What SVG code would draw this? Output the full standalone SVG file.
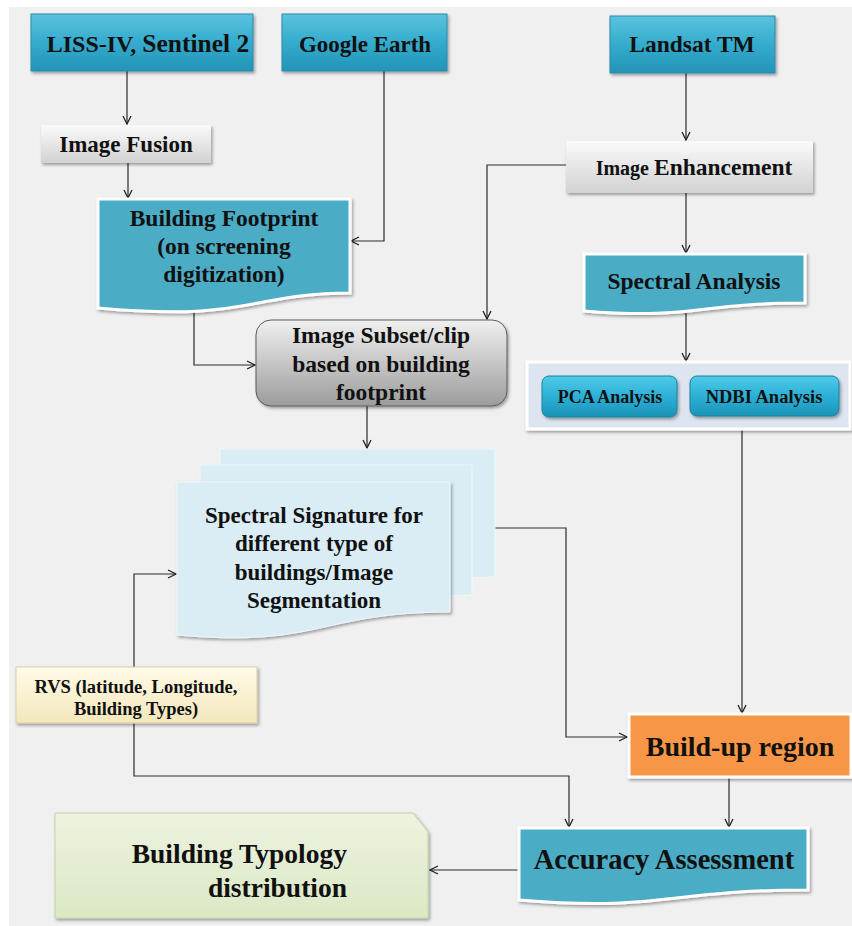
<svg xmlns="http://www.w3.org/2000/svg" width="852" height="926" viewBox="0 0 852 926">
<defs>
<linearGradient id="gTeal" x1="0" y1="0" x2="0" y2="1"><stop offset="0" stop-color="#5cc3de"/><stop offset="0.5" stop-color="#34abcd"/><stop offset="1" stop-color="#2394b8"/></linearGradient>
<linearGradient id="gBtn" x1="0" y1="0" x2="0" y2="1"><stop offset="0" stop-color="#4fcbe8"/><stop offset="0.5" stop-color="#2cb0d6"/><stop offset="1" stop-color="#1b93b8"/></linearGradient>
<linearGradient id="gLight" x1="0" y1="0" x2="0" y2="1"><stop offset="0" stop-color="#fafafa"/><stop offset="1" stop-color="#d2d2d2"/></linearGradient>
<linearGradient id="gSubset" x1="0" y1="0" x2="0" y2="1"><stop offset="0" stop-color="#f0f0f0"/><stop offset="1" stop-color="#9c9c9c"/></linearGradient>
<linearGradient id="gCream" x1="0" y1="0" x2="0" y2="1"><stop offset="0" stop-color="#fffbe8"/><stop offset="1" stop-color="#f4e7bb"/></linearGradient>
<linearGradient id="gGreen" x1="0" y1="0" x2="0" y2="1"><stop offset="0" stop-color="#edf3e0"/><stop offset="1" stop-color="#dbe8c4"/></linearGradient>
<filter id="sh" x="-10%" y="-10%" width="130%" height="140%"><feDropShadow dx="1.5" dy="2" stdDeviation="1.5" flood-color="#000" flood-opacity="0.35"/></filter>
<marker id="arr" viewBox="0 0 10 10" refX="9" refY="5" markerWidth="10" markerHeight="10" markerUnits="userSpaceOnUse" orient="auto"><polyline points="1,1 9,5 1,9" fill="none" stroke="#222" stroke-width="1.3"/></marker>
</defs>
<style>
text{font-family:"Liberation Serif","Times New Roman",serif;font-weight:bold;fill:#111;text-anchor:middle}
.ca{fill:none;stroke:#2a2a2a;stroke-width:1.2;marker-end:url(#arr)}
.teal{fill:url(#gTeal);stroke:#2a8aaa;stroke-width:1}
.doc{fill:#4bacc6;stroke:#fff;stroke-width:3}
.ltdoc{fill:#daedf5;stroke:#eef7fb;stroke-width:1}
.btn{fill:url(#gBtn);stroke:#1f7f9e;stroke-width:1}
</style>
<rect x="9" y="7" width="843" height="919" fill="#f0f0f0"/>

<g id="connectors">
<path class="ca" d="M127,71 V124"/>
<path class="ca" d="M128,163 V198"/>
<path class="ca" d="M384,71 V241 H351"/>
<path class="ca" d="M686,73 V140"/>
<path class="ca" d="M686,193 V253"/>
<path class="ca" d="M566,165 H487 V319"/>
<path class="ca" d="M194,303 V365 H255"/>
<path class="ca" d="M686,313 V361"/>
<path class="ca" d="M367,406 V448"/>
<path class="ca" d="M495,528 H566 V737 H627"/>
<path class="ca" d="M742,429 V713"/>
<path class="ca" d="M134,667 V574 H176"/>
<path class="ca" d="M134,723 V776 H569 V827"/>
<path class="ca" d="M729,777 V827"/>
<path class="ca" d="M519,870 H430"/>
</g>

<g id="liss">
<rect class="teal" x="31" y="14" width="222" height="57" filter="url(#sh)"/>
<text x="148" y="52"><tspan font-size="24">LISS-IV, </tspan><tspan font-size="25.5">Sentinel 2</tspan></text>
</g>
<g id="google">
<rect class="teal" x="282" y="14" width="165" height="57" filter="url(#sh)"/>
<text x="365" y="52" font-size="23">Google Earth</text>
</g>
<g id="landsat">
<rect class="teal" x="610" y="16" width="165" height="57" filter="url(#sh)"/>
<text x="692" y="52" font-size="23.5">Landsat TM</text>
</g>
<g id="fusion">
<rect x="41" y="125" width="170" height="38" fill="url(#gLight)" filter="url(#sh)"/>
<text x="126" y="152" font-size="23">Image Fusion</text>
</g>
<g id="enhance">
<rect x="566" y="141" width="247" height="52" fill="url(#gLight)" filter="url(#sh)"/>
<text x="694" y="175"><tspan font-size="20">Image </tspan><tspan font-size="23.5">Enhancement</tspan></text>
</g>
<g id="footprint">
<path class="doc" filter="url(#sh)" d="M98,199 H350 V293 C250,293 250,322 98,308 Z"/>
<text x="224" y="226" font-size="23.5">Building Footprint</text>
<text x="224" y="254" font-size="23.5">(on screening</text>
<text x="224" y="282" font-size="23.5">digitization)</text>
</g>
<g id="spectral">
<path class="doc" filter="url(#sh)" d="M584,254 H805 V303 C695,303 695,320 584,311 Z"/>
<text x="694" y="289" font-size="23.5">Spectral Analysis</text>
</g>
<g id="subset">
<rect x="256" y="320" width="251" height="86" rx="15" fill="url(#gSubset)" stroke="#5a5a5a" stroke-width="1" filter="url(#sh)"/>
<text x="381" y="343" font-size="23.5">Image Subset/clip</text>
<text x="381" y="372" font-size="23.5">based on building</text>
<text x="381" y="400" font-size="23.5">footprint</text>
</g>
<g id="panel">
<rect x="527" y="362" width="323" height="67" fill="#dde6f0" stroke="#fff" stroke-width="3" filter="url(#sh)"/>
</g>
<g id="pca">
<rect class="btn" x="542" y="376" width="135" height="41" rx="7" filter="url(#sh)"/>
<text x="610" y="403" font-size="18">PCA Analysis</text>
</g>
<g id="ndbi">
<rect class="btn" x="690" y="376" width="149" height="40" rx="7" filter="url(#sh)"/>
<text x="764" y="403" font-size="18.5">NDBI Analysis</text>
</g>
<g id="signature">
<path class="ltdoc" d="M220,449 H495 V577 C420,577 420,600 220,592 Z"/>
<path class="ltdoc" d="M200,465 H472 V595 C400,595 400,618 200,610 Z"/>
<path class="ltdoc" filter="url(#sh)" d="M177,482 H450 V612 C320,612 320,648 177,635 Z"/>
<text x="314" y="523" font-size="23">Spectral Signature for</text>
<text x="314" y="551" font-size="23">different type of</text>
<text x="314" y="580" font-size="23">buildings/Image</text>
<text x="314" y="608" font-size="23">Segmentation</text>
</g>
<g id="rvs">
<rect x="16" y="667" width="241" height="56" fill="url(#gCream)" stroke="#d9cfa6" stroke-width="1" filter="url(#sh)"/>
<text x="136" y="693" font-size="18.5">RVS (latitude, Longitude,</text>
<text x="136" y="715" font-size="18.5">Building Types)</text>
</g>
<g id="buildup">
<rect x="629" y="714" width="222" height="63" fill="#f79646" stroke="#fff" stroke-width="3" filter="url(#sh)"/>
<text x="740" y="756" font-size="28">Build-up region</text>
</g>
<g id="accuracy">
<path class="doc" filter="url(#sh)" d="M519,828 H808 V890 C664,890 664,912 519,900 Z"/>
<text x="664" y="869" font-size="28.5">Accuracy Assessment</text>
</g>
<g id="typology">
<path d="M55,813 H413 L428,832 V918 H55 Z" fill="url(#gGreen)" stroke="#c4d3a6" stroke-width="1" filter="url(#sh)"/>
<text x="347" y="863" font-size="27.5" style="text-anchor:end">Building Typology</text>
<text x="347" y="897" font-size="27.5" style="text-anchor:end">distribution</text>
</g>
</svg>
